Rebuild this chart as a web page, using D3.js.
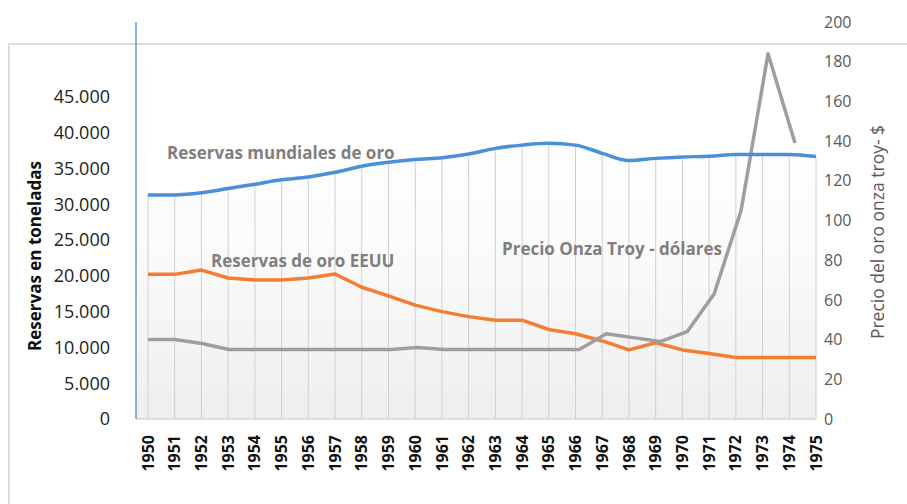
<!DOCTYPE html>
<html>
<head>
<meta charset="utf-8">
<script src="https://cdn.jsdelivr.net/npm/d3@7"></script>
<style>
  body { margin: 0; background: #fff; }
  svg { display: block; font-family: 'Open Sans', sans-serif; }
</style>
</head>
<body>
<div id="chart"></div>
<script>
// categories
const years = [1950, 1951, 1952, 1953, 1954, 1955, 1956, 1957, 1958, 1959, 1960, 1961, 1962,
  1963, 1964, 1965, 1966, 1967, 1968, 1969, 1970, 1971, 1972, 1973, 1974, 1975];
// world gold reserves, tonnes (left axis)
const worldReserves = [31300, 31300, 31600, 32200, 32800, 33400, 33800, 34450, 35300, 35850, 36250, 36500, 37000,
  37800, 38250, 38500, 38250, 37100, 36100, 36400, 36600, 36700, 36950, 36950, 36950, 36650];
// US gold reserves, tonnes (left axis)
const usReserves = [20200, 20200, 20800, 19700, 19400, 19400, 19700, 20250, 18400, 17200, 15900, 15000, 14300,
  13800, 13800, 12500, 11900, 10900, 9650, 10650, 9650, 9150, 8600, 8600, 8600, 8600];
// troy ounce price, dollars (right axis), 1950-1974
const priceYears = years.slice(0, 25);
const ouncePrice = [40, 40, 38, 35, 35, 35, 35, 35, 35, 35, 36, 35, 35,
  35, 35, 35, 35, 43, 41, 39, 44, 63, 105, 184, 139];

const leftTicks = [0, 5000, 10000, 15000, 20000, 25000, 30000, 35000, 40000, 45000];
const rightTicks = [0, 20, 40, 60, 80, 100, 120, 140, 160, 180, 200];

const width = 907;
const height = 504;
const plot = { left: 136, right: 816, top: 44, bottom: 419 };

const svg = d3.select('#chart')
  .append('svg')
  .attr('width', width)
  .attr('height', height);

const esLocale = d3.formatLocale({ decimal: ',', thousands: '.', grouping: [3], currency: ['', ''] });
const fmt = esLocale.format(',');

const xScale = d3.scalePoint()
  .domain(years)
  .range([148, plot.right]);

// the price series sits a little to the right in the original
const xPrice = d3.scalePoint()
  .domain(priceYears)
  .range([148, 795]);

const yLeft = d3.scaleLinear()
  .domain([0, 50000])
  .range([plot.bottom, 61]);

const yRight = d3.scaleLinear()
  .domain([0, 200])
  .range([plot.bottom, 22]);

// background gradient of the plot
const defs = svg.append('defs');
const grad = defs.append('linearGradient')
  .attr('id', 'bg')
  .attr('x1', 0).attr('y1', 0).attr('x2', 0).attr('y2', 1);
grad.append('stop').attr('offset', '0%').attr('stop-color', '#ffffff');
grad.append('stop').attr('offset', '50%').attr('stop-color', '#fcfcfc');
grad.append('stop').attr('offset', '100%').attr('stop-color', '#eeeeee');

svg.append('rect')
  .attr('x', plot.left)
  .attr('y', plot.top)
  .attr('width', plot.right - plot.left)
  .attr('height', plot.bottom - plot.top)
  .attr('fill', 'url(#bg)');

// white above the world line so grid only shows under it
const topArea = d3.area()
  .x((d, i) => xScale(years[i]))
  .y0(plot.top)
  .y1(d => yLeft(d))
  .curve(d3.curveMonotoneX);

svg.append('path')
  .datum(worldReserves)
  .attr('d', topArea)
  .attr('fill', '#ffffff');

// outer frame
svg.append('path')
  .attr('d', `M9,${height} V${plot.top} H${width}`)
  .attr('fill', 'none')
  .attr('stroke', '#d4d4d4')
  .attr('stroke-width', 1.5);

// vertical grid lines up to the world line
svg.selectAll('.grid')
  .data(years)
  .enter()
  .append('line')
  .attr('class', 'grid')
  .attr('x1', d => xScale(d))
  .attr('x2', d => xScale(d))
  .attr('y1', (d, i) => yLeft(worldReserves[i]))
  .attr('y2', plot.bottom)
  .attr('stroke', '#d0d0d0')
  .attr('stroke-width', 1);

// bottom axis line
svg.append('line')
  .attr('x1', plot.left)
  .attr('x2', plot.right)
  .attr('y1', plot.bottom)
  .attr('y2', plot.bottom)
  .attr('stroke', '#d4d4d4')
  .attr('stroke-width', 1.5);

// left axis line (blue)
svg.append('line')
  .attr('x1', plot.left)
  .attr('x2', plot.left)
  .attr('y1', yRight(200))
  .attr('y2', plot.bottom)
  .attr('stroke', '#5b9bd5')
  .attr('stroke-width', 1.5);

// lines
const lineLeft = d3.line()
  .x((d, i) => xScale(years[i]))
  .y(d => yLeft(d));

svg.append('path')
  .datum(usReserves)
  .attr('d', lineLeft)
  .attr('fill', 'none')
  .attr('stroke', '#f47d32')
  .attr('stroke-width', 3.5)
  .attr('stroke-linejoin', 'round');

svg.append('path')
  .datum(ouncePrice)
  .attr('d', d3.line()
    .x((d, i) => xPrice(priceYears[i]))
    .y(d => yRight(d)))
  .attr('fill', 'none')
  .attr('stroke', '#9e9e9e')
  .attr('stroke-width', 3.5)
  .attr('stroke-linejoin', 'round');

svg.append('path')
  .datum(worldReserves)
  .attr('d', lineLeft.curve(d3.curveMonotoneX))
  .attr('fill', 'none')
  .attr('stroke', '#4a90d9')
  .attr('stroke-width', 3.5);

// left ticks
svg.selectAll('.ltick')
  .data(leftTicks)
  .enter()
  .append('text')
  .attr('class', 'ltick')
  .attr('x', 110)
  .attr('y', d => yLeft(d))
  .attr('dy', '0.35em')
  .attr('text-anchor', 'end')
  .attr('font-size', '18px')
  .attr('fill', '#222')
  .text(d => fmt(d));

// right ticks
svg.selectAll('.rtick')
  .data(rightTicks)
  .enter()
  .append('text')
  .attr('class', 'rtick')
  .attr('x', 824)
  .attr('y', d => yRight(d))
  .attr('dy', '0.35em')
  .attr('text-anchor', 'start')
  .attr('font-size', '16px')
  .attr('fill', '#595959')
  .text(d => d);

// year labels
svg.selectAll('.year')
  .data(years)
  .enter()
  .append('text')
  .attr('class', 'year')
  .attr('transform', d => `translate(${xScale(d)},435) rotate(-90)`)
  .attr('dy', '0.35em')
  .attr('text-anchor', 'end')
  .attr('font-size', '16px')
  .attr('font-weight', 'bold')
  .attr('fill', '#111')
  .text(d => d);

// axis titles
svg.append('text')
  .attr('transform', 'translate(35,256) rotate(-90)')
  .attr('dy', '0.35em')
  .attr('text-anchor', 'middle')
  .attr('font-size', '17px')
  .attr('font-weight', 'bold')
  .attr('fill', '#111')
  .text('Reservas en toneladas');

svg.append('text')
  .attr('transform', 'translate(878,232) rotate(-90)')
  .attr('dy', '0.35em')
  .attr('text-anchor', 'middle')
  .attr('font-size', '17.5px')
  .attr('fill', '#595959')
  .text('Precio del oro onza troy- $');

// series labels
function seriesLabel(text, x, y) {
  svg.append('text')
    .attr('x', x)
    .attr('y', y)
    .attr('dy', '0.35em')
    .attr('font-size', '17px')
    .attr('font-weight', 'bold')
    .attr('fill', '#7f7f7f')
    .text(text);
}
seriesLabel('Reservas mundiales de oro', 167, 153);
seriesLabel('Reservas de oro EEUU', 211, 261);
seriesLabel('Precio Onza Troy - dólares', 502, 249);
</script>
</body>
</html>
